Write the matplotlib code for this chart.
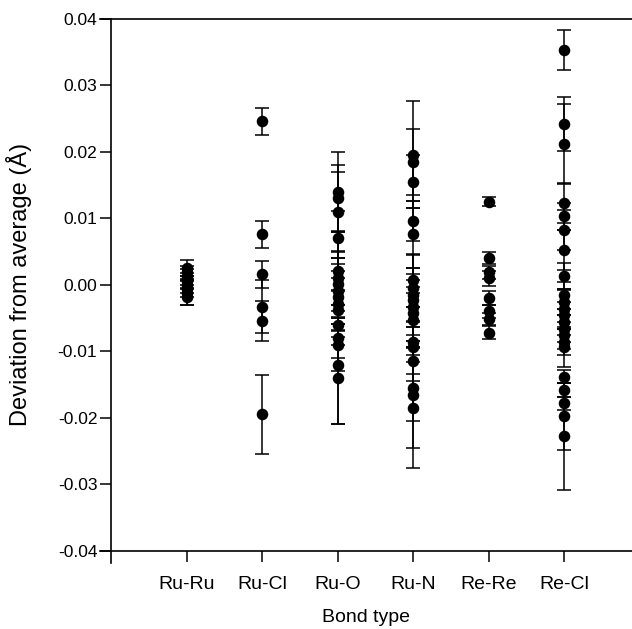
import numpy as np
import matplotlib.pyplot as plt

plt.rcParams['font.family'] = ['Liberation Sans', 'DejaVu Sans']

# --- data ---
bond_types = ["Ru-Ru", "Ru-Cl", "Ru-O", "Ru-N", "Re-Re", "Re-Cl"]

ru_ru = [0.0026, 0.0019, 0.0012, 0.0006, 0.0000, -0.0006, -0.0012, -0.0018]
ru_ru_err = [0.0012, 0.0010, 0.0012, 0.0012, 0.0013, 0.0012, 0.0019, 0.0013]

ru_cl = [0.0246, 0.0076, 0.0016, -0.0033, -0.0054, -0.0195]
ru_cl_err = [0.0020, 0.0020, 0.0020, 0.0040, 0.0030, 0.0060]

ru_o = [0.0140, 0.0130, 0.0110, 0.0071, 0.0021, 0.0011, 0.0001, -0.0009,
        -0.0019, -0.0029, -0.0038, -0.0060, -0.0080, -0.0090, -0.0120, -0.0140]
ru_o_err = [0.0060, 0.0050, 0.0060, 0.0040, 0.0030, 0.0070, 0.0040, 0.0050,
            0.0030, 0.0050, 0.0030, 0.0030, 0.0030, 0.0040, 0.0090, 0.0070]

ru_n = [0.0196, 0.0185, 0.0155, 0.0096, 0.0076, 0.0007, -0.0004, -0.0015,
        -0.0023, -0.0033, -0.0043, -0.0053, -0.0086, -0.0094, -0.0115,
        -0.0155, -0.0165, -0.0185]
ru_n_err = [0.0080, 0.0050, 0.0040, 0.0030, 0.0050, 0.0040, 0.0030, 0.0060,
            0.0040, 0.0030, 0.0050, 0.0040, 0.0030, 0.0040, 0.0030,
            0.0050, 0.0080, 0.0090]

re_re = [0.0125, 0.0040, 0.0019, 0.0010, -0.0020, -0.0040, -0.0052, -0.0072]
re_re_err = [0.0007, 0.0009, 0.0010, 0.0011, 0.0011, 0.0010, 0.0009, 0.0010]

re_cl = [0.0353, 0.0242, 0.0212, 0.0123, 0.0103, 0.0083, 0.0053, 0.0013,
         -0.0016, -0.0026, -0.0036, -0.0046, -0.0056, -0.0066, -0.0076,
         -0.0086, -0.0094, -0.0138, -0.0158, -0.0178, -0.0198, -0.0228]
re_cl_err = [0.0030, 0.0040, 0.0060, 0.0030, 0.0020, 0.0030, 0.0030, 0.0020,
             0.0020, 0.0020, 0.0030, 0.0020, 0.0020, 0.0020, 0.0020,
             0.0020, 0.0030, 0.0010, 0.0010, 0.0010, 0.0050, 0.0080]

groups = [(ru_ru, ru_ru_err), (ru_cl, ru_cl_err), (ru_o, ru_o_err),
          (ru_n, ru_n_err), (re_re, re_re_err), (re_cl, re_cl_err)]

fig = plt.figure(figsize=(6.32, 6.29), dpi=100)
ax = fig.add_axes([100 / 632, 1 - 550.7 / 629, 532 / 632, (550.7 - 19) / 629])

for i, (vals, errs) in enumerate(groups):
    xs = np.full(len(vals), i + 1)
    ax.errorbar(xs, vals, yerr=errs, fmt="o", color="black", ms=7.3,
                elinewidth=1.1, capsize=5, capthick=1.1, zorder=3)

ax.set_xlim(-0.148, 6.897)
ax.set_ylim(-0.04, 0.04)
ax.set_yticks(np.arange(-0.04, 0.041, 0.01))
ax.set_yticklabels([f"{v:.2f}" for v in np.arange(-0.04, 0.041, 0.01)])
ax.set_xticks(range(1, 7))
ax.set_xticklabels(bond_types)

ax.spines["right"].set_visible(False)
ax.spines["left"].set_position(("data", 0))
ax.spines["left"].set_bounds(-0.0418, 0.04)
for s in ax.spines.values():
    s.set_linewidth(1.2)

ax.tick_params(axis="y", direction="out", length=8, width=1.1, pad=2, labelsize=12.5)
ax.tick_params(axis="x", direction="out", length=8, width=1.1, pad=10, labelsize=14)

ax.set_xlabel("Bond type", fontsize=14, labelpad=12)
ax.set_ylabel("Deviation from average (Å)", fontsize=17)
ax.yaxis.set_label_coords(-68 / 532, 0.5)

plt.savefig("out.png", dpi=100)
